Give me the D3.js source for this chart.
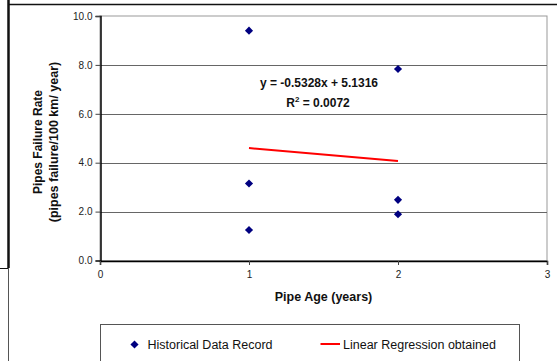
<!DOCTYPE html>
<html>
<head>
<meta charset="utf-8">
<title>Pipes Failure Rate</title>
<script src="https://cdn.jsdelivr.net/npm/d3@7"></script>
<style>
body { margin: 0; background: #fff; }
svg { display: block; font-family: "Liberation Sans", Arial, sans-serif; }
</style>
</head>
<body>
<svg width="557" height="361"></svg>
<script>
// data
var pipeAge = [1, 1, 1, 2, 2, 2];
var failureRate = [9.4, 3.15, 1.25, 7.83, 2.48, 1.89];
var xTicks = [0, 1, 2, 3];
var yTicks = [0, 2, 4, 6, 8, 10];
var equationText = "y = -0.5328x + 5.1316";
var rSquaredText = "= 0.0072";
var legendLabels = ["Historical Data Record", "Linear Regression obtained"];

var svg = d3.select("svg");

var x = d3.scaleLinear().domain([0, 3]).range([100, 547]);
var y = d3.scaleLinear().domain([0, 10]).range([260.5, 16]);

// outer frame bits (chart is cropped)
svg.append("line").attr("x1", 8.5).attr("x2", 8.5).attr("y1", 0).attr("y2", 268)
  .attr("stroke", "#111").attr("stroke-width", 2.5);
svg.append("line").attr("x1", 8).attr("x2", 557).attr("y1", 4.5).attr("y2", 4.5)
  .attr("stroke", "#111").attr("stroke-width", 1.5);
svg.append("line").attr("x1", 0).attr("x2", 9).attr("y1", 268.5).attr("y2", 268.5)
  .attr("stroke", "#111").attr("stroke-width", 1);
svg.append("line").attr("x1", 8.5).attr("x2", 8.5).attr("y1", 268).attr("y2", 361)
  .attr("stroke", "#555").attr("stroke-width", 1);

// plot area border
svg.append("rect")
  .attr("x", x(0)).attr("y", y(10))
  .attr("width", x(3) - x(0)).attr("height", y(0) - y(10))
  .attr("fill", "#fff").attr("stroke", "#999").attr("stroke-width", 1);

// gridlines
svg.append("g").selectAll("line")
  .data(yTicks.filter(function(d){ return d > 0 && d < 10; }))
  .enter().append("line")
    .attr("x1", x(0)).attr("x2", x(3))
    .attr("y1", function(d){ return Math.round(y(d)) + 0.5; })
    .attr("y2", function(d){ return Math.round(y(d)) + 0.5; })
    .attr("stroke", "#666").attr("stroke-width", 1);

// axes
var yAxis = svg.append("g")
  .attr("transform", "translate(" + (x(0) + 0.5) + ",0)")
  .call(d3.axisLeft(y).tickValues(yTicks).tickFormat(d3.format(".1f"))
        .tickSize(5).tickPadding(3));
var xAxis = svg.append("g")
  .attr("transform", "translate(0," + (y(0) + 0.5) + ")")
  .call(d3.axisBottom(x).tickValues(xTicks).tickFormat(d3.format("d"))
        .tickSize(4).tickPadding(6));
[xAxis, yAxis].forEach(function(a){
  a.select(".domain").attr("stroke", "#000").attr("stroke-width", 1.5);
  a.selectAll(".tick line").attr("stroke", "#444");
  a.selectAll(".tick text").attr("fill", "#222")
    .style("font-family", "'Liberation Sans', Arial, sans-serif")
    .style("font-size", "10px");
});

// regression line from the data
var mx = d3.mean(pipeAge), my = d3.mean(failureRate);
var sxy = d3.sum(pipeAge, function(d, i){ return (d - mx) * (failureRate[i] - my); });
var sxx = d3.sum(pipeAge, function(d){ return (d - mx) * (d - mx); });
var slope = sxy / sxx, intercept = my - slope * mx;
var xr = d3.extent(pipeAge);
svg.append("line")
  .attr("x1", x(xr[0])).attr("y1", y(slope * xr[0] + intercept))
  .attr("x2", x(xr[1])).attr("y2", y(slope * xr[1] + intercept))
  .attr("stroke", "#ff0000").attr("stroke-width", 2);

// data points
var diamond = d3.symbol().type(d3.symbolDiamond2).size(42);
svg.append("g").selectAll("path")
  .data(pipeAge)
  .enter().append("path")
    .attr("d", diamond)
    .attr("transform", function(d, i){
      return "translate(" + x(d) + "," + y(failureRate[i]) + ")"; })
    .attr("fill", "#000080");

// equation label
svg.append("text")
  .attr("x", 319).attr("y", 87)
  .attr("text-anchor", "middle")
  .style("font-size", "12px").style("font-weight", "bold").attr("fill", "#111")
  .text(equationText);
var r2 = svg.append("text")
  .attr("x", 318).attr("y", 107)
  .attr("text-anchor", "middle")
  .style("font-size", "12px").style("font-weight", "bold").attr("fill", "#111");
r2.append("tspan").text("R");
r2.append("tspan").attr("dy", -5).style("font-size", "8px").text("2");
r2.append("tspan").attr("dy", 5).text(" " + rSquaredText);

// axis titles
svg.append("text")
  .attr("x", 323.5).attr("y", 301)
  .attr("text-anchor", "middle")
  .style("font-size", "12.5px").style("font-weight", "bold").attr("fill", "#111")
  .text("Pipe Age (years)");
svg.append("text")
  .attr("transform", "translate(41.5,142) rotate(-90)")
  .attr("text-anchor", "middle")
  .style("font-size", "12px").style("font-weight", "bold").attr("fill", "#111")
  .text("Pipes Failure Rate");
svg.append("text")
  .attr("transform", "translate(57.5,142) rotate(-90)")
  .attr("text-anchor", "middle")
  .style("font-size", "12.5px").style("font-weight", "bold").attr("fill", "#111")
  .text("(pipes failure/100 km/ year)");

// legend
var legend = svg.append("g");
legend.append("rect")
  .attr("x", 100.5).attr("y", 324.5).attr("width", 419).attr("height", 50)
  .attr("fill", "#fff").attr("stroke", "#555").attr("stroke-width", 1);
legend.append("path").attr("d", diamond)
  .attr("transform", "translate(134.5,344.5)").attr("fill", "#000080");
legend.append("text").attr("x", 147.5).attr("y", 348.5)
  .style("font-size", "12.5px").attr("fill", "#111").text(legendLabels[0]);
legend.append("line").attr("x1", 320.5).attr("x2", 340).attr("y1", 344).attr("y2", 344)
  .attr("stroke", "#ff0000").attr("stroke-width", 2);
legend.append("text").attr("x", 343).attr("y", 348.5)
  .style("font-size", "12.5px").attr("fill", "#111").text(legendLabels[1]);
</script>
</body>
</html>
